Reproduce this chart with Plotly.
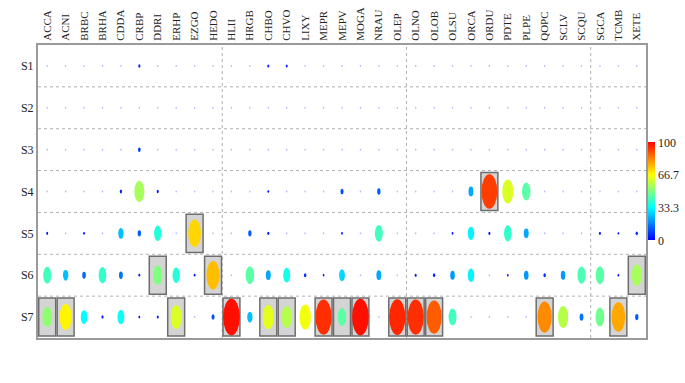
import plotly.graph_objects as go
from plotly.colors import sample_colorscale

columns = ["ACCA", "ACNI", "BRBC", "BRHA", "CDDA", "CRBP", "DDRI", "ERHP", "EZGO", "HEDO",
           "HLII", "HRGB", "CHBO", "CHVO", "LIXY", "MEPR", "MEPV", "MOGA", "NRAU", "OLEP",
           "OLNO", "OLOB", "OLSU", "ORCA", "ORDU", "PDTE", "PLPE", "QOPC", "SCLV", "SCQU",
           "SGCA", "TCMB", "XETE"]
rows = ["S1", "S2", "S3", "S4", "S5", "S6", "S7"]

S1 = [0, 0, 0, 0, 0, 4, 0, 0, 0, 0, 0, 0, 3, 3, 0, 0, 0, 0, 0, 0, 0, 0, 0, 0, 0, 0, 0, 0, 0, 0, 0, 0, 0]
S2 = [0] * 33
S3 = [0, 0, 0, 0, 0, 7, 0, 0, 0, 0, 0, 0, 0, 0, 0, 0, 0, 0, 0, 0, 0, 0, 0, 0, 0, 0, 0, 0, 0, 0, 0, 0, 0]
S4 = [0, 0, 0, 0, 5, 55, 4, 0, 0, 0, 0, 0, 2, 0, 0, 0, 10, 0, 12, 0, 0, 0, 0, 22, 92, 62, 45, 0, 0, 0, 0, 0, 0]
S5 = [3, 0, 2, 0, 25, 12, 38, 0, 72, 0, 0, 12, 4, 0, 0, 0, 2, 0, 42, 0, 0, 0, 2, 32, 3, 40, 22, 0, 0, 0, 3, 1, 5]
S6 = [42, 25, 14, 40, 15, 2, 50, 38, 2, 75, 0, 45, 22, 36, 6, 1, 28, 0, 22, 0, 3, 5, 20, 32, 0, 1, 20, 6, 20, 43, 45, 1, 55]
S7 = [52, 68, 33, 4, 35, 2, 3, 62, 0, 10, 98, 25, 63, 57, 65, 94, 45, 98, 0, 95, 94, 88, 42, 0, 0, 0, 0, 82, 57, 15, 48, 78, 12]
values = [S1, S2, S3, S4, S5, S6, S7]

# highlighted (boxed) cells per row
highlight_S4 = ["ORDU"]
highlight_S5 = ["EZGO"]
highlight_S6 = ["DDRI", "HEDO", "XETE"]
highlight_S7 = ["ACCA", "ACNI", "ERHP", "HLII", "CHBO", "CHVO", "MEPR", "MEPV", "MOGA",
                "OLEP", "OLNO", "OLOB", "QOPC", "TCMB"]
highlights = {"S4": highlight_S4, "S5": highlight_S5, "S6": highlight_S6, "S7": highlight_S7}

colorscale = [[0.0, "rgb(0,0,255)"], [0.333, "rgb(0,255,255)"],
              [0.5, "rgb(128,255,128)"], [0.667, "rgb(255,255,0)"], [1.0, "rgb(255,0,0)"]]

W, H = 685, 383
ml, mr, mt, mb = 38, 39, 45, 45
px_x = (W - ml - mr) / len(columns)
px_y = (H - mt - mb) / len(rows)

shapes = []
# boxes
for ri, r in enumerate(rows):
    for c in highlights.get(r, []):
        ci = columns.index(c)
        shapes.append(dict(type="rect", xref="x", yref="y", layer="below",
                           x0=ci - 0.46, x1=ci + 0.46, y0=ri - 0.455, y1=ri + 0.455,
                           fillcolor="#d4d4d4", line=dict(color="#6e6e6e", width=1.5)))
# grid lines
for k in range(1, len(rows)):
    shapes.append(dict(type="line", xref="paper", yref="y", x0=0, x1=1, y0=k - 0.5, y1=k - 0.5,
                       line=dict(color="#b0b0b0", width=1, dash="dot"), layer="below"))
for k in (10, 20, 30):
    shapes.append(dict(type="line", xref="x", yref="paper", x0=k - 0.5, x1=k - 0.5, y0=0, y1=1,
                       line=dict(color="#b0b0b0", width=1, dash="dot"), layer="below"))
# ellipses
for ri, r in enumerate(rows):
    for ci, c in enumerate(columns):
        v = values[ri][ci]
        col = sample_colorscale(colorscale, [v / 100])[0]
        h_px = 2 + 0.355 * v
        w_px = 1.5 + 0.155 * v
        hw = w_px / 2 / px_x
        hh = h_px / 2 / px_y
        shapes.append(dict(type="circle", xref="x", yref="y", layer="above",
                           x0=ci - hw, x1=ci + hw, y0=ri - hh, y1=ri + hh,
                           fillcolor=col if v > 0 else "rgba(120,140,255,0.6)",
                           line=dict(width=0)))

xs, ys, cs = [], [], []
for ri, r in enumerate(rows):
    for ci, c in enumerate(columns):
        xs.append(ci)
        ys.append(ri)
        cs.append(values[ri][ci])

fig = go.Figure(go.Scatter(
    x=xs, y=ys, mode="markers", hoverinfo="text",
    text=[f"{rows[y]} {columns[x]}: {v}" for x, y, v in zip(xs, ys, cs)],
    marker=dict(size=10, opacity=0, color=cs, colorscale=colorscale, cmin=0, cmax=100,
                showscale=True,
                colorbar=dict(x=1.004, xanchor="left", xpad=0, y=0.5, yanchor="middle",
                              len=0.335, lenmode="fraction", thickness=7, ypad=0,
                              outlinewidth=0,
                              tickvals=[0, 33.3, 66.7, 100], ticktext=["0", "33.3", "66.7", "100"],
                              ticks="", ticklen=0,
                              tickfont=dict(family="Liberation Serif", size=12, color="#222")))))

fig.update_layout(
    width=W, height=H, margin=dict(l=ml, r=mr, t=mt, b=mb, autoexpand=False),
    paper_bgcolor="white", plot_bgcolor="white", showlegend=False,
    shapes=shapes,
    xaxis=dict(range=[-0.5, len(columns) - 0.5], side="top", tickmode="array",
               tickvals=list(range(len(columns))), ticktext=columns, tickangle=-90,
               showgrid=False, zeroline=False, showline=True, mirror=True, automargin=False,
               linecolor="#9a9a9a", linewidth=2, ticks="",
               tickfont=dict(family="Liberation Serif", size=11, color="#222")),
    yaxis=dict(range=[len(rows) - 0.5, -0.5], tickmode="array",
               tickvals=list(range(len(rows))), ticktext=rows, automargin=False,
               showgrid=False, zeroline=False, showline=True, mirror=True,
               linecolor="#9a9a9a", linewidth=2, ticks="",
               tickfont=dict(family="Liberation Serif", size=12, color="#222")),
)
fig.write_html("out.html", config={"displayModeBar": False},
               post_script="document.body.style.margin='0';document.body.style.overflow='hidden';")
